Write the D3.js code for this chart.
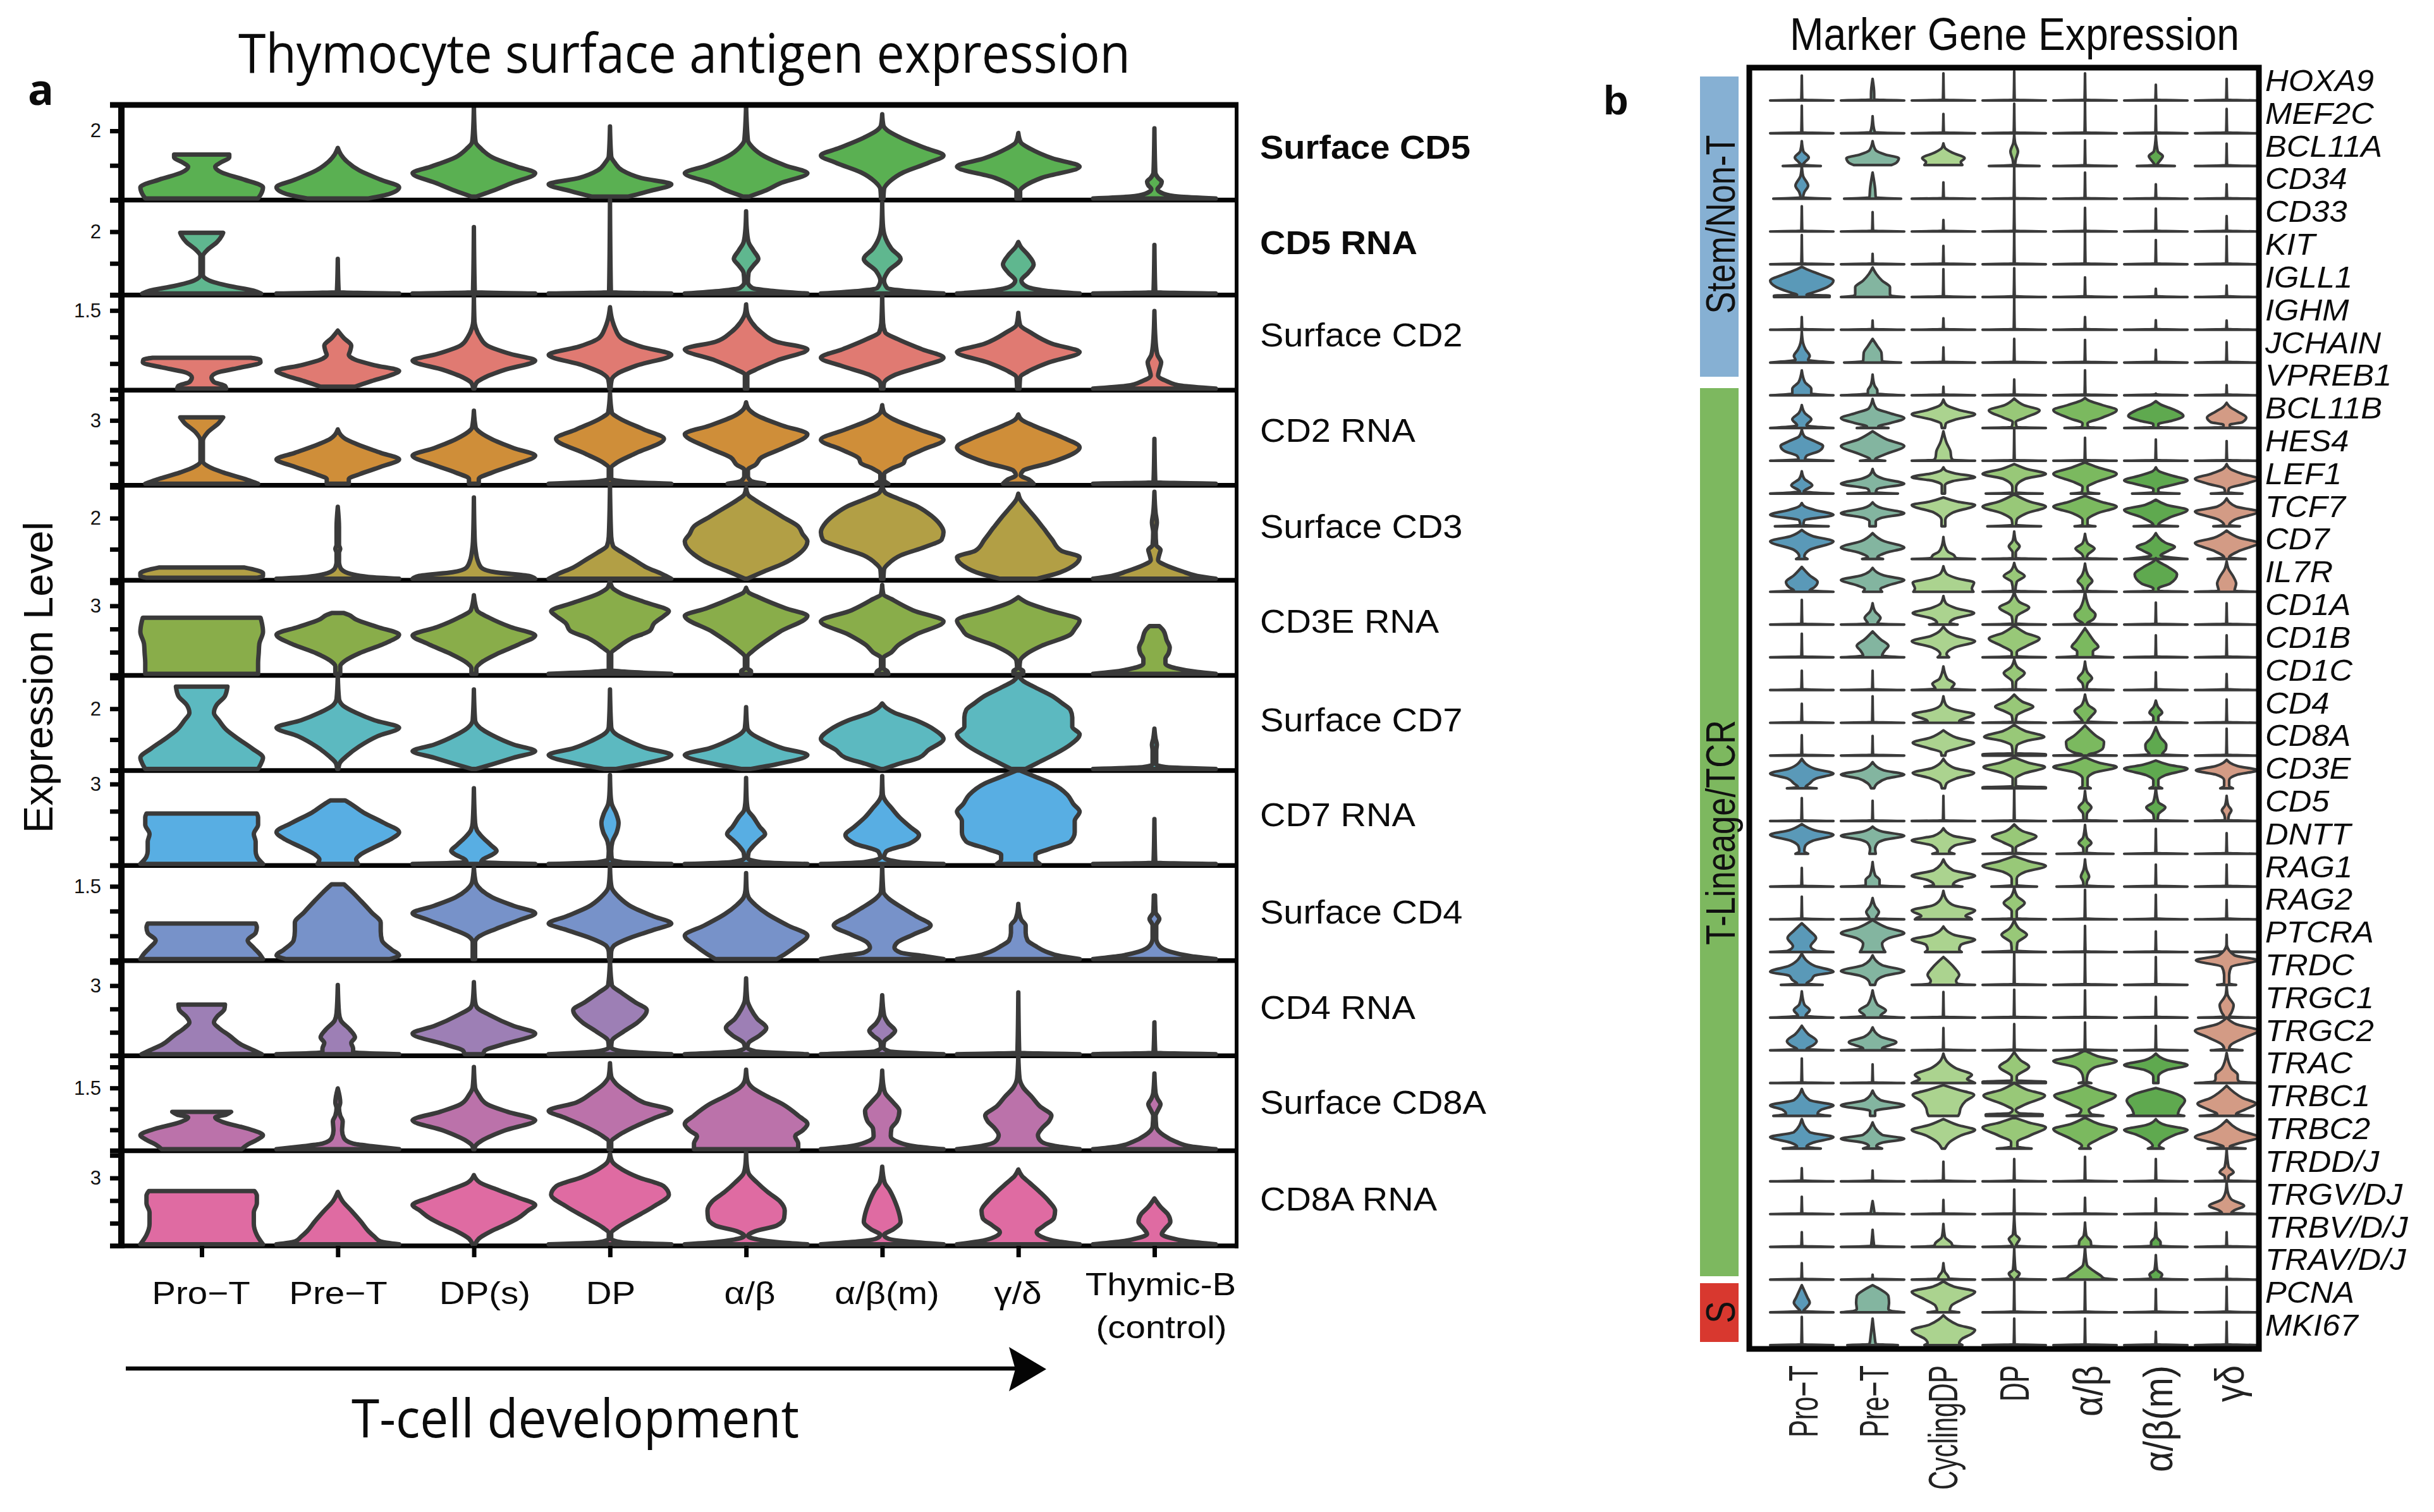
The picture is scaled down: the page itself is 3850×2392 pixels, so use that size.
<!DOCTYPE html>
<html><head><meta charset="utf-8">
<script src="https://cdn.jsdelivr.net/npm/d3@7"></script>
<style>html,body{margin:0;padding:0;background:#fff}svg{display:block}</style>
</head><body><svg id="c" width="3850" height="2392"></svg>
<script>
// ---------- DATA: panel a ----------
const stagesA = ["Pro\u2212T","Pre\u2212T","DP(s)","DP","\u03b1/\u03b2","\u03b1/\u03b2(m)","\u03b3/\u03b4","Thymic-B"];
const rowLabels = ["Surface CD5","CD5 RNA","Surface CD2","CD2 RNA","Surface CD3","CD3E RNA","Surface CD7","CD7 RNA","Surface CD4","CD4 RNA","Surface CD8A","CD8A RNA"];
const rowMax = [2.75,3,1.79,4.4,3.06,4.1,3.08,3.5,1.92,4.07,2.27,4.2];
const rowTickStep = [1,1,0.5,1,1,1,1,1,0.5,1,0.5,1];
const rowTickLabel = [2,2,1.5,3,2,3,2,3,1.5,3,1.5,3];
// each violin: [level % of row, half-width % of column] pairs; a bare number is a spike of that level
const surfaceCD5 = [
 [[0,92],[5,97],[12,100],[20,70],[28,32],[34,22],[38,30],[44,45],[47,45]],
 [[0,50],[5,85],[12,100],[20,70],[30,35],[40,14],[47,5],[54,0]],
 [[2,4],[8,30],[16,60],[27,100],[34,70],[44,30],[53,12],[60,3],[70,1.5],[100,0]],
 [[2,30],[8,65],[15,100],[22,50],[30,20],[38,8],[45,2],[77,0]],
 [[2,5],[8,30],[16,55],[27,100],[35,65],[45,30],[55,10],[62,3],[100,0]],
 [[0,2],[10,3],[18,12],[28,35],[38,75],[46,100],[54,70],[65,30],[73,8],[78,2],[90,0]],
 [[0,3],[8,3],[14,12],[22,38],[34,100],[43,55],[53,20],[60,4],[70,0]],
 [[0,100],[2,40],[5,15],[10,5],[14,10],[18,12],[22,6],[28,1.5],[75,0]]];
const cd5RNA = [
 [[0,97],[3,85],[8,45],[14,12],[20,2],[40,2],[47,10],[55,25],[62,33],[65,35]],
 37, 71, 100,
 [[0,100],[3,40],[6,10],[12,3],[22,4],[30,12],[37,20],[46,12],[55,4],[70,1],[88,0]],
 [[0,100],[3,35],[6,8],[14,3],[24,10],[37,30],[48,15],[62,4],[75,1],[97,0]],
 [[0,100],[3,45],[8,12],[14,5],[22,16],[31,25],[42,15],[50,4],[55,0]],
 52];
const surfaceCD2 = [
 [[0,40],[3,38],[7,20],[12,16],[17,25],[22,60],[28,96],[31,95],[33,80]],
 [[2,28],[8,55],[14,85],[19,100],[25,60],[31,28],[36,18],[40,20],[46,22],[54,10],[62,0]],
 [[0,1],[6,4],[12,18],[20,50],[30,100],[37,60],[46,22],[55,10],[65,3],[72,1],[100,0]],
 [[0,1],[10,3],[16,12],[25,45],[36,100],[45,50],[54,18],[65,8],[75,3],[87,0]],
 [[0,2],[15,2],[20,15],[30,50],[42,100],[50,50],[60,25],[72,8],[80,2],[90,0]],
 [[0,2],[6,3],[15,22],[24,65],[33,100],[42,65],[53,25],[60,5],[70,1.5],[100,0]],
 [[0,2],[12,3],[18,15],[28,50],[39,100],[48,55],[60,20],[68,3],[81,0]],
 [[0,100],[3,45],[8,20],[14,6],[20,8],[28,11],[36,5],[50,2],[83,0]]];
const cd2RNA = [
 [[0,92],[4,75],[12,35],[18,12],[24,2],[46,2],[55,10],[65,28],[71,35]],
 [[0,18],[5,18],[10,35],[18,70],[26,100],[33,70],[42,32],[48,12],[52,5],[58,0]],
 [[0,8],[5,8],[12,30],[20,65],[30,100],[38,65],[48,28],[55,10],[60,3],[78,0]],
 [[0,100],[2,30],[5,2],[17,2],[22,10],[32,40],[48,88],[58,55],[70,15],[76,3],[97,0]],
 [[0,30],[3,8],[8,3],[15,3],[20,15],[28,25],[38,60],[53,100],[62,60],[74,15],[80,4],[87,0]],
 [[0,10],[4,3],[10,3],[16,15],[22,35],[27,38],[36,65],[47,100],[58,60],[70,15],[76,3],[84,0]],
 [[0,25],[4,18],[9,4],[14,8],[22,50],[39,100],[50,70],[62,25],[68,6],[74,0]],
 48];
const surfaceCD3 = [
 [[1,90],[3,100],[6,100],[9,90],[12,70]],
 [[0,100],[2,50],[5,22],[10,6],[14,3],[18,2],[28,2],[32,4],[36,2],[55,2],[77,0]],
 [[0,100],[3,90],[7,35],[12,12],[20,6],[30,3],[40,1.5],[87,0]],
 [[0,100],[5,85],[12,60],[20,40],[28,20],[35,5],[45,2],[100,0]],
 [[0,2],[8,30],[16,60],[26,85],[34,97],[40,100],[48,92],[56,85],[66,60],[74,40],[84,15],[90,3],[97,0]],
 [[0,2],[10,3],[16,10],[25,30],[34,70],[42,97],[50,100],[60,92],[70,75],[78,55],[86,25],[92,5],[99,0]],
 [[0,30],[5,60],[14,90],[23,100],[30,70],[42,55],[55,40],[65,28],[75,15],[85,3],[91,0]],
 [[0,100],[3,70],[8,45],[14,20],[20,6],[26,8],[31,10],[36,3],[50,2],[60,4],[70,2],[93,0]]];
const cd3eRNA = [
 [[0,92],[12,92],[22,93],[32,94],[45,100],[55,98],[60,96]],
 [[0,4],[8,4],[14,12],[22,35],[32,75],[42,100],[50,65],[58,30],[63,18],[65,10]],
 [[0,4],[6,4],[12,12],[22,40],[32,75],[41,100],[50,60],[60,25],[68,5],[84,0]],
 [[0,100],[2,30],[4,2],[22,2],[28,12],[38,35],[46,65],[54,72],[62,88],[67,96],[76,60],[86,18],[92,4],[100,0]],
 [[0,8],[3,8],[6,2],[18,2],[25,12],[34,30],[45,55],[62,100],[70,65],[82,20],[87,4],[92,0]],
 [[0,10],[3,8],[6,2],[17,2],[23,15],[30,25],[42,55],[56,100],[68,50],[80,15],[85,2],[95,0]],
 [[0,8],[3,8],[6,2],[14,3],[22,15],[30,38],[42,85],[48,92],[57,100],[68,50],[76,15],[82,0]],
 [[0,100],[2,70],[6,35],[11,18],[16,18],[22,23],[28,25],[36,20],[46,15],[51,8]]];
const surfaceCD7 = [
 [[0,92],[6,97],[12,100],[22,82],[32,60],[42,40],[52,28],[60,20],[68,24],[78,38],[88,42]],
 [[0,1],[6,3],[14,15],[24,35],[35,65],[44,100],[52,60],[60,30],[68,8],[75,2],[100,0]],
 [[0,4],[5,30],[12,65],[19,100],[26,65],[36,30],[44,10],[52,2],[85,0]],
 [[0,10],[5,50],[15,100],[22,60],[30,30],[38,8],[45,2],[85,0]],
 [[0,8],[5,50],[15,100],[22,60],[30,30],[38,8],[44,2],[66,0]],
 [[0,3],[5,25],[12,60],[20,75],[32,100],[42,85],[52,55],[60,20],[65,7],[70,0]],
 [[0,12],[6,30],[16,60],[26,85],[37,100],[45,88],[55,88],[63,85],[70,72],[78,55],[88,25],[94,8],[100,0]],
 [[0,100],[2,18],[5,3],[20,3],[26,4],[32,2],[43,0]]];
const cd7RNA = [
 [[0,100],[8,90],[14,88],[24,88],[32,85],[42,92],[50,92],[54,90]],
 [[0,33],[5,30],[9,35],[18,60],[26,85],[34,100],[44,75],[55,42],[64,22],[68,12]],
 [[0,100],[2,12],[5,15],[10,30],[14,37],[20,28],[28,15],[36,5],[44,2],[81,0]],
 [[0,100],[2,20],[5,3],[14,2],[24,4],[34,11],[44,14],[54,10],[64,3],[74,1],[95,0]],
 [[0,100],[2,25],[6,3],[12,4],[18,10],[26,22],[32,31],[40,22],[50,12],[58,3],[68,1],[92,0]],
 [[0,100],[2,30],[7,3],[13,6],[22,45],[31,60],[40,45],[50,28],[60,15],[68,5],[75,1],[94,0]],
 [[0,35],[5,28],[10,28],[16,50],[24,85],[34,92],[46,92],[56,100],[64,90],[74,80],[86,55],[94,25],[100,3]],
 48];
const surfaceCD4 = [
 [[0,100],[5,95],[12,85],[20,75],[28,88],[34,90],[38,88]],
 [[0,85],[4,100],[10,88],[20,72],[30,70],[39,70],[50,55],[62,38],[74,20],[80,10]],
 [[0,2],[18,2],[24,8],[32,35],[42,75],[49,100],[57,65],[66,30],[74,12],[82,3],[98,0]],
 [[0,1.5],[8,2],[14,6],[22,30],[32,75],[38,100],[46,70],[56,35],[66,15],[76,3],[85,1],[100,0]],
 [[0,50],[6,65],[14,82],[25,100],[36,68],[48,35],[58,15],[66,4],[74,1],[92,0]],
 [[0,100],[3,70],[7,30],[12,20],[18,25],[26,50],[36,79],[46,55],[56,30],[65,10],[72,2],[100,0]],
 [[0,100],[3,70],[8,45],[14,28],[20,15],[28,12],[36,12],[42,5],[48,2],[59,0]],
 [[0,100],[3,60],[8,25],[14,8],[22,3],[36,3],[43,8],[50,2],[68,1]]];
const cd4RNA = [
 [[0,98],[4,85],[10,65],[20,45],[28,28],[34,20],[40,25],[48,37],[53,38]],
 [[0,100],[2,25],[6,25],[12,22],[18,28],[26,20],[36,5],[44,2],[74,0]],
 [[0,15],[4,18],[10,45],[22,100],[30,65],[42,25],[50,5],[56,2],[77,0]],
 [[0,100],[3,22],[7,2],[14,3],[24,22],[34,45],[47,60],[56,40],[66,18],[74,3],[100,0]],
 [[0,100],[3,15],[7,2],[12,4],[20,22],[28,33],[38,18],[48,8],[58,2],[81,0]],
 [[0,100],[3,12],[7,2],[13,3],[20,15],[25,21],[33,10],[42,3],[63,0]],
 66, 34];
const surfaceCD8A = [
 [[0,65],[5,75],[10,90],[15,100],[22,75],[29,35],[34,22],[37,40],[40,48]],
 [[0,100],[3,60],[6,25],[12,10],[20,7],[30,8],[36,4],[44,2],[50,4],[65,0]],
 [[0,1],[4,3],[10,15],[20,50],[31,100],[40,55],[48,22],[58,8],[66,2],[88,0]],
 [[0,2],[8,2],[14,12],[24,40],[34,75],[41,100],[50,55],[60,30],[70,10],[78,2],[92,0]],
 [[0,85],[6,85],[14,80],[20,92],[27,100],[36,85],[48,60],[58,30],[66,10],[74,2],[85,0]],
 [[0,100],[3,55],[8,25],[14,14],[22,15],[30,24],[41,28],[50,18],[60,5],[68,2],[84,0]],
 [[0,100],[3,65],[8,38],[15,32],[22,38],[30,50],[36,54],[46,35],[56,22],[66,8],[76,2],[100,0]],
 [[0,100],[3,60],[8,35],[15,15],[24,3],[36,2],[42,6],[48,10],[54,5],[60,2],[81,0]]];
const cd8aRNA = [
 [[0,100],[10,90],[22,85],[34,85],[44,90],[52,90],[57,86]],
 [[0,100],[3,70],[8,60],[14,50],[24,38],[36,22],[46,8],[56,0]],
 [[0,2],[6,8],[14,28],[22,55],[28,72],[36,88],[42,100],[50,72],[58,40],[66,10],[74,0]],
 [[0,100],[2,20],[6,2],[12,2],[18,12],[28,38],[40,70],[53,96],[62,88],[72,45],[80,20],[88,4],[97,0]],
 [[0,100],[2,55],[5,20],[9,3],[14,15],[20,50],[28,62],[36,63],[46,55],[56,35],[66,18],[76,4],[86,1],[100,0]],
 [[0,100],[3,40],[6,10],[10,3],[16,18],[24,30],[32,28],[44,22],[58,12],[66,4],[83,0]],
 [[0,100],[3,65],[8,38],[13,30],[20,42],[28,58],[36,60],[46,50],[56,35],[66,18],[73,6],[80,0]],
 [[0,100],[3,55],[7,25],[11,12],[17,18],[24,26],[32,22],[40,10],[49,0]]];
const violinsA = [surfaceCD5,cd5RNA,surfaceCD2,cd2RNA,surfaceCD3,cd3eRNA,surfaceCD7,cd7RNA,surfaceCD4,cd4RNA,surfaceCD8A,cd8aRNA];
const colorsA = ["#5ab052","#5fb78f","#e07a72","#cf8e39","#b29f45","#89ad4a","#5cb9c0","#58aee3","#7792c9","#9d7fb5","#bb72aa","#df6ba2"];

// ---------- DATA: panel b ----------
const stagesB = ["Pro\u2212T","Pre\u2212T","CyclingDP","DP","\u03b1/\u03b2","\u03b1/\u03b2(m)","\u03b3\u03b4"];
const colorsB = ["#5a99b8","#83b5a0","#abd38f","#98c878","#7bb95f","#5fa94f","#d39b85"];
const geneNames = ["HOXA9","MEF2C","BCL11A","CD34","CD33","KIT","IGLL1","IGHM","JCHAIN","VPREB1","BCL11B","HES4","LEF1","TCF7","CD7","IL7R","CD1A","CD1B","CD1C","CD4","CD8A","CD3E","CD5","DNTT","RAG1","RAG2","PTCRA","TRDC","TRGC1","TRGC2","TRAC","TRBC1","TRBC2","TRDD/J","TRGV/DJ","TRBV/D/J","TRAV/D/J","PCNA","MKI67"];
const groupNames = ["Stem/Non-T","T-Lineage/TCR","S"];
const groupColors = ["#86b0d3","#7db85f","#d8382f"];
const HOXA9 = [76,[[0,100],[3,5],[20,5],[66,0]],83,89,83,48,66];
const MEF2C = [84,[[0,100],[3,8],[15,4],[52,0]],59,90,97,84,74];
const BCL11A = [[[0,60],[4,3],[12,10],[26,22],[45,5],[76,0]],[[3,60],[10,75],[24,83],[35,40],[48,10],[76,0]],[[3,60],[12,55],[24,67],[40,30],[55,5],[69,0]],[[0,80],[3,3],[20,5],[44,12],[70,3],[99,0]],78,[[0,60],[3,4],[15,12],[30,22],[45,6],[92,0]],68];
const CD34 = [[[0,90],[4,4],[20,8],[40,20],[70,4],[102,0]],[[0,90],[4,10],[30,8],[80,0]],50,97,80,44,44];
const CD33 = [77,59,35,99,72,70,47];
const KIT = [89,32,56,104,109,74,86];
const IGLL1 = [[[0,88],[4,88],[7,15],[12,30],[30,80],[50,100],[70,55],[85,15],[92,0]],[[0,100],[4,60],[8,55],[30,55],[50,30],[70,12],[90,0]],85,88,60,25,35];
const IGHM = [39,28,35,100,39,29,28];
const JCHAIN = [[[0,100],[8,20],[20,25],[40,12],[60,4],[94,0]],[[0,90],[4,30],[30,28],[50,15],[72,0]],46,72,69,39,62];
const VPREB1 = [[[0,100],[5,30],[20,30],[40,10],[76,0]],[[0,100],[5,15],[15,15],[30,6],[63,0]],26,48,76,5,31];
const BCL11B = [[[0,100],[8,15],[27,30],[45,10],[70,0]],[[0,50],[5,18],[15,55],[30,100],[45,55],[60,12],[89,0]],[[0,5],[14,8],[25,35],[42,100],[55,50],[70,10],[87,0]],[[0,100],[3,8],[18,5],[32,35],[54,80],[70,30],[90,0]],[[0,65],[3,10],[14,8],[30,50],[55,100],[70,55],[85,10],[92,0]],[[0,100],[3,8],[12,8],[22,50],[37,87],[55,60],[72,15],[82,0]],[[0,100],[3,10],[10,10],[18,50],[32,62],[50,35],[65,10],[77,0]]];
const HES4 = [[[0,100],[4,10],[15,15],[30,55],[45,67],[60,40],[75,8],[95,0]],[[0,40],[4,8],[20,40],[45,100],[65,45],[90,0]],[[0,100],[3,30],[10,25],[30,22],[55,10],[90,0]],100,70,65,60];
const LEF1 = [[[0,100],[6,6],[25,33],[45,8],[68,0]],[[0,80],[4,10],[14,15],[30,100],[45,35],[58,8],[75,0]],[[0,5],[25,5],[38,30],[50,100],[62,35],[70,8],[80,0]],[[0,90],[3,6],[20,6],[45,35],[60,100],[75,40],[90,0]],[[0,45],[4,10],[20,8],[35,35],[60,100],[80,40],[95,0]],[[0,75],[4,8],[14,8],[28,60],[40,100],[55,50],[68,10],[80,0]],[[0,50],[4,5],[16,8],[30,60],[45,100],[60,50],[75,12],[90,0]]];
const TCF7 = [[[0,85],[4,5],[18,8],[35,100],[50,40],[60,10],[71,0]],[[0,10],[15,10],[25,25],[40,100],[55,30],[73,0]],[[0,6],[20,6],[42,30],[65,100],[75,45],[88,0]],[[0,85],[4,6],[20,8],[40,40],[60,100],[75,50],[98,0]],[[0,33],[4,8],[20,8],[40,40],[60,100],[75,50],[93,0]],[[0,70],[4,8],[25,40],[50,100],[65,35],[81,0]],[[0,42],[4,8],[20,25],[45,100],[60,30],[85,0]]];
const CD7 = [[[0,18],[8,8],[28,25],[54,100],[70,35],[89,0]],[[0,33],[5,15],[20,45],[35,100],[55,35],[79,0]],[[0,100],[3,40],[12,33],[22,15],[40,5],[67,0]],[[0,100],[3,5],[20,5],[39,17],[55,5],[84,0]],[[0,100],[3,5],[15,10],[32,30],[48,8],[77,0]],[[0,100],[5,45],[11,15],[25,40],[37,60],[50,30],[79,0]],[[0,60],[5,8],[25,40],[49,100],[65,40],[87,0]]];
const IL7R = [[[0,100],[4,25],[14,40],[30,50],[50,25],[76,0]],[[0,30],[8,25],[20,50],[36,100],[50,35],[73,0]],[[0,95],[10,90],[28,97],[42,40],[55,10],[78,0]],[[0,100],[3,4],[30,8],[48,33],[65,10],[88,0]],[[0,100],[3,5],[18,10],[33,23],[50,10],[86,0]],[[0,100],[3,10],[10,8],[25,45],[53,67],[75,40],[95,5],[103,0]],[[0,100],[3,25],[25,30],[45,22],[70,6],[93,0]]];
const CD1A = [75,[[0,100],[3,15],[20,25],[40,8],[65,0]],[[0,45],[5,20],[18,35],[35,97],[50,40],[65,8],[87,0]],[[0,100],[3,5],[25,8],[52,47],[70,15],[100,0]],[[0,100],[3,6],[15,25],[30,33],[50,15],[100,0]],67,65];
const CD1B = [72,[[0,100],[5,30],[20,38],[35,50],[55,25],[79,0]],[[0,18],[10,10],[30,35],[49,100],[65,40],[94,0]],[[0,100],[3,8],[15,8],[35,40],[57,80],[75,35],[97,0]],[[0,90],[4,25],[18,25],[32,42],[50,28],[89,0]],67,67];
const CD1C = [59,59,[[0,100],[4,25],[19,35],[35,12],[72,0]],[[0,100],[3,5],[25,6],[52,33],[70,10],[94,0]],[[0,90],[3,5],[20,8],[36,22],[55,7],[87,0]],54,49];
const CD4 = [58,81,[[0,95],[5,50],[26,97],[40,35],[55,8],[81,0]],[[0,100],[3,5],[22,8],[35,30],[49,60],[65,25],[86,0]],[[0,100],[4,8],[20,20],[36,33],[55,10],[86,0]],[[0,100],[3,8],[18,8],[31,20],[50,6],[68,0]],71];
const CD8A = [62,60,[[0,6],[10,8],[22,45],[39,97],[55,40],[77,0]],[[0,100],[4,100],[7,5],[30,8],[45,40],[57,95],[75,35],[94,0]],[[0,100],[3,10],[8,30],[25,58],[42,60],[60,35],[92,0]],[[0,100],[4,20],[20,32],[32,33],[55,15],[87,0]],82];
const CD3E = [[[0,47],[4,12],[15,25],[30,45],[45,100],[60,40],[90,0]],[[0,5],[15,15],[30,45],[42,100],[55,35],[80,0]],[[0,5],[15,10],[30,40],[47,97],[62,35],[90,0]],[[0,100],[3,100],[6,5],[30,5],[45,30],[65,97],[78,45],[95,0]],[[0,18],[8,8],[30,8],[48,30],[65,100],[78,45],[95,0]],[[0,20],[8,8],[25,8],[40,30],[60,100],[72,40],[85,0]],[[0,20],[8,8],[25,8],[42,35],[55,97],[68,35],[87,0]]];
const CD5 = [70,62,77,102,[[0,100],[3,5],[22,6],[42,20],[60,5],[92,0]],[[0,100],[3,6],[20,8],[42,30],[58,8],[102,0]],[[0,100],[3,5],[20,8],[32,15],[48,5],[77,0]]];
const DNTT = [[[0,20],[8,8],[22,10],[40,35],[58,100],[72,40],[91,0]],[[0,10],[15,8],[32,15],[42,35],[55,100],[68,30],[83,0]],[[0,35],[6,18],[25,35],[41,100],[55,30],[78,0]],[[0,100],[3,5],[18,5],[35,35],[53,70],[70,25],[90,0]],[[0,90],[3,5],[18,6],[33,20],[50,6],[88,0]],76,63];
const RAG1 = [57,[[0,100],[3,22],[20,22],[35,8],[75,0]],[[0,60],[5,30],[20,50],[33,100],[50,30],[83,0]],[[0,72],[4,8],[25,8],[45,35],[63,100],[78,45],[93,0]],[[0,90],[3,5],[15,6],[30,13],[50,5],[83,0]],67,67];
const RAG2 = [69,[[0,100],[3,10],[22,20],[40,8],[65,0]],[[0,90],[4,85],[10,70],[27,100],[42,35],[60,10],[87,0]],[[0,100],[3,8],[25,8],[50,33],[70,10],[97,0]],90,75,59];
const PTCRA = [[[0,100],[4,45],[18,28],[43,45],[65,25],[88,0]],[[0,40],[8,35],[25,30],[42,50],[58,100],[75,45],[98,0]],[[0,58],[8,50],[22,55],[38,100],[52,35],[78,0]],[[0,100],[4,8],[28,10],[53,40],[72,15],[98,0]],80,63,53];
const TRDC = [[[0,66],[4,15],[15,30],[28,40],[40,100],[58,40],[95,0]],[[0,8],[12,12],[28,40],[42,100],[60,30],[90,0]],[[0,100],[3,45],[12,40],[30,50],[52,35],[85,0]],95,95,85,[[0,30],[4,8],[30,8],[55,15],[75,97],[90,25],[120,0]]];
const TRGC1 = [[[0,100],[5,12],[23,25],[40,8],[80,0]],[[0,100],[5,25],[22,42],[40,15],[83,0]],78,85,83,63,[[0,90],[3,8],[15,15],[38,22],[60,8],[70,3],[98,0]]];
const TRGC2 = [[[0,100],[4,15],[15,35],[28,47],[50,20],[75,0]],[[0,100],[5,30],[25,75],[42,25],[70,0]],68,80,85,75,[[0,50],[5,8],[18,15],[40,60],[60,100],[80,30],[100,0]]];
const TRAC = [75,57,[[0,100],[5,90],[12,75],[25,90],[45,40],[65,12],[90,0]],[[0,100],[4,100],[8,8],[20,8],[50,47],[70,20],[95,0]],[[0,20],[5,5],[25,8],[48,30],[67,100],[82,40],[100,0]],[[0,8],[20,8],[40,35],[55,100],[70,35],[90,0]],[[0,100],[5,40],[12,35],[25,35],[45,15],[92,0]]];
const TRBC1 = [[[0,90],[6,50],[18,60],[32,100],[48,25],[82,0]],[[0,8],[15,8],[32,100],[48,25],[77,0]],[[0,47],[6,50],[25,55],[45,70],[64,97],[80,45],[94,0]],[[0,90],[4,90],[8,15],[18,5],[35,35],[62,97],[80,40],[100,0]],[[0,58],[5,20],[18,12],[35,45],[62,97],[78,45],[95,0]],[[0,90],[5,70],[20,75],[47,92],[65,70],[85,0]],[[0,85],[5,30],[20,60],[37,92],[55,50],[92,0]]];
const TRBC2 = [[[0,60],[6,15],[18,35],[35,100],[50,25],[90,0]],[[0,30],[8,12],[18,30],[30,100],[42,30],[80,0]],[[0,5],[20,20],[40,55],[57,100],[72,45],[90,0]],[[0,55],[6,10],[20,10],[40,50],[65,100],[80,45],[95,0]],[[0,18],[8,10],[30,45],[60,100],[75,45],[95,0]],[[0,25],[8,10],[25,25],[42,60],[57,100],[72,30],[90,0]],[[0,60],[6,10],[15,35],[35,100],[55,45],[87,0]]];
const TRDDJ = [40,33,60,68,75,68,[[0,100],[3,5],[15,6],[28,22],[45,6],[98,0]]];
const TRGVDJ = [53,[[0,100],[3,6],[10,5],[40,0]],43,75,50,48,[[0,100],[4,15],[12,25],[25,55],[45,15],[70,3],[100,0]]];
const TRBVDJ = [45,[[0,100],[3,5],[10,4],[52,0]],[[0,100],[3,30],[12,25],[30,5],[70,0]],[[0,100],[3,5],[12,10],[24,17],[38,4],[102,0]],[[0,100],[3,20],[17,18],[35,4],[74,0]],[[0,100],[3,15],[14,15],[30,3],[74,0]],45];
const TRAVDJ = [50,15,[[0,100],[3,18],[10,15],[25,4],[50,0]],[[0,100],[3,6],[10,12],[18,17],[30,4],[95,0]],[[0,100],[4,60],[12,50],[25,30],[45,6],[100,0]],[[0,100],[3,15],[15,20],[30,4],[75,0]],40];
const PCNA = [[[0,100],[4,5],[15,15],[30,25],[45,18],[83,0]],[[0,100],[4,60],[10,50],[30,52],[50,50],[70,25],[83,0]],[[0,50],[5,20],[20,25],[40,60],[63,100],[78,35],[95,0]],98,93,71,78];
const MKI67 = [86,[[0,80],[3,10],[30,6],[81,0]],[[0,60],[6,50],[20,60],[35,90],[46,100],[62,45],[78,15],[91,0]],81,81,41,71];
const violinsB = [HOXA9,MEF2C,BCL11A,CD34,CD33,KIT,IGLL1,IGHM,JCHAIN,VPREB1,BCL11B,HES4,LEF1,TCF7,CD7,IL7R,CD1A,CD1B,CD1C,CD4,CD8A,CD3E,CD5,DNTT,RAG1,RAG2,PTCRA,TRDC,TRGC1,TRGC2,TRAC,TRBC1,TRBC2,TRDDJ,TRGVDJ,TRBVDJ,TRAVDJ,PCNA,MKI67];

// ---------- DRAW ----------
const svg = d3.select("#c");
const SANS = "'Liberation Sans',Arial,sans-serif", HUM = "'Open Sans',sans-serif";
function txt(s,x,y,o={}){
  const t = `translate(${x},${y}) rotate(${o.rot||0}) scale(${o.sx||1},${o.sy||1})`;
  const e = svg.append("text").attr("transform",t).attr("font-family",o.family||SANS)
    .attr("font-size",o.size).attr("fill","#0b0b0b").attr("text-anchor",o.anchor||"start").text(s);
  if(o.weight) e.attr("font-weight",o.weight);
  if(o.style) e.attr("font-style",o.style);
  if(o.len) e.attr("textLength",o.len).attr("lengthAdjust","spacingAndGlyphs");
  return e;
}
function profile(v,spikeBase){ return typeof v==="number" ? [[0,100],[spikeBase,1.5],[v,0]] : v; }
function drawViolin(g,v,cx,yLevel,w,color,sw,spikeBase){
  const area = d3.area().y(d=>yLevel(d[0])).x0(d=>cx-w(d[1])).x1(d=>cx+w(d[1])).curve(d3.curveMonotoneY);
  g.append("path").attr("d",area(profile(v,spikeBase))).attr("fill",color)
    .attr("stroke","#3a3a3a").attr("stroke-width",sw).attr("stroke-linejoin","round");
}

// Panel a
const T=166,B=1971,L=192,R=1956;
const rowBand = d3.scaleBand().domain(rowLabels).range([T,B]);
const xA = d3.scalePoint().domain(stagesA).range([319,1826]);
const wA = d3.scaleLinear().domain([0,100]).range([0,97]);
const gA = svg.append("g");
rowLabels.forEach((name,i)=>{
  const top = rowBand(name), bot = top+rowBand.bandwidth();
  gA.append("line").attr("x1",174).attr("x2",R+3).attr("y1",bot).attr("y2",bot).attr("stroke","#050505").attr("stroke-width",7.5);
  const yLevel = d3.scaleLinear().domain([0,100]).range([bot-2.5,top]);
  violinsA[i].forEach((v,j)=>drawViolin(gA,v,xA(stagesA[j]),yLevel,wA,colorsA[i],7,1.5));
  const yExpr = d3.scaleLinear().domain([0,rowMax[i]]).range([bot,top]);
  const axis = d3.axisLeft(yExpr).tickValues(d3.range(0,rowMax[i]+1e-6,rowTickStep[i])).tickSize(18).tickPadding(14)
    .tickFormat(d=>Math.abs(d-rowTickLabel[i])<1e-6?String(d):"");
  const ax = gA.append("g").attr("transform",`translate(${L},0)`).call(axis);
  ax.select(".domain").remove();
  ax.selectAll("line").attr("stroke","#050505").attr("stroke-width",7);
  ax.selectAll("text").attr("font-family",SANS).attr("font-size",31).attr("fill","#111");
  const bold = i<2;
  txt(name,1993,[251,402,548,699,851,1001,1157,1307,1461,1612,1762,1915][i],{size:50,sx:1.12,sy:1.03,weight:bold?"bold":null});
});
gA.append("line").attr("x1",174).attr("x2",R+3).attr("y1",T).attr("y2",T).attr("stroke","#050505").attr("stroke-width",9);
gA.append("line").attr("x1",L).attr("x2",L).attr("y1",T-4).attr("y2",B+4).attr("stroke","#050505").attr("stroke-width",10);
gA.append("line").attr("x1",R).attr("x2",R).attr("y1",T-4).attr("y2",B+4).attr("stroke","#050505").attr("stroke-width",6);
const xAxisA = gA.append("g").attr("transform",`translate(0,${B})`).call(d3.axisBottom(xA).tickSize(18).tickFormat(""));
xAxisA.select(".domain").remove();
xAxisA.selectAll("line").attr("stroke","#050505").attr("stroke-width",7);
const stageCx=[318,535,767,966,1186,1403,1610];
stagesA.slice(0,7).forEach((s,i)=>txt(s,stageCx[i],2063,{size:50,sx:1.13,anchor:"middle"}));
txt(stagesA[7],1836,2049,{size:50,sx:1.13,anchor:"middle"});
txt("(control)",1837,2117,{size:50,sx:1.13,anchor:"middle"});

txt("Thymocyte surface antigen expression",377,115,{size:86,family:HUM,len:1411});
txt("a",44,166,{size:68,family:HUM,weight:"bold"});
txt("Expression Level",83,1318,{size:64,rot:-90,len:493});
txt("T-cell development",556,2274,{size:84,family:HUM,len:708});
svg.append("line").attr("x1",199).attr("x2",1610).attr("y1",2165).attr("y2",2165).attr("stroke","#050505").attr("stroke-width",6.5);
svg.append("path").attr("d",d3.line()([[1596,2131],[1655,2166],[1596,2201],[1606,2166]])+"Z").attr("fill","#050505");

// Panel b
const xB = d3.scalePoint().domain(stagesB).range([2850,3522]);
const yGene = d3.scalePoint().domain(geneNames).range([159,2128]);
const rowH = yGene.step();
const wB = d3.scaleLinear().domain([0,100]).range([0,50]);
const gB = svg.append("g");
geneNames.forEach((g,i)=>{
  const base = yGene(g);
  const yLevel = d3.scaleLinear().domain([0,100]).range([base,base-rowH]);
  violinsB[i].forEach((v,j)=>drawViolin(gB,v,xB(stagesB[j]),yLevel,wB,colorsB[j],4.2,2.5));
});
geneNames.forEach((g,i)=>txt(g,3583,yGene(g)-15,{size:47,sx:1.08,sy:1.03,style:"italic"}));
gB.append("rect").attr("x",2767).attr("y",107).attr("width",806).attr("height",2027).attr("fill","none").attr("stroke","#050505").attr("stroke-width",9);
const barTop=[121,614,2030], barBot=[596,2019,2123], labelCy=[355,1317,2076];
groupNames.forEach((n,i)=>{
  svg.append("rect").attr("x",2689).attr("y",barTop[i]).attr("width",61).attr("height",barBot[i]-barTop[i]).attr("fill",groupColors[i]);
  txt(n,2744,labelCy[i],{size:50,rot:-90,sx:1.05,sy:1.3,anchor:"middle",}).attr("fill","#111");
});
const xLabelOff=[25,25,22,23,27,26,27];
const xLabelLen=[114,114,197,57,81,169,58];
stagesB.forEach((s,i)=>txt(s,xB(s)+xLabelOff[i],2160,{size:50,rot:-90,sy:1.3,anchor:"end",len:xLabelLen[i]}).attr("fill","#222"));
txt("Marker Gene Expression",2831,79,{size:72,len:711});
txt("b",2536,181,{size:65,weight:"bold"});
</script></body></html>
